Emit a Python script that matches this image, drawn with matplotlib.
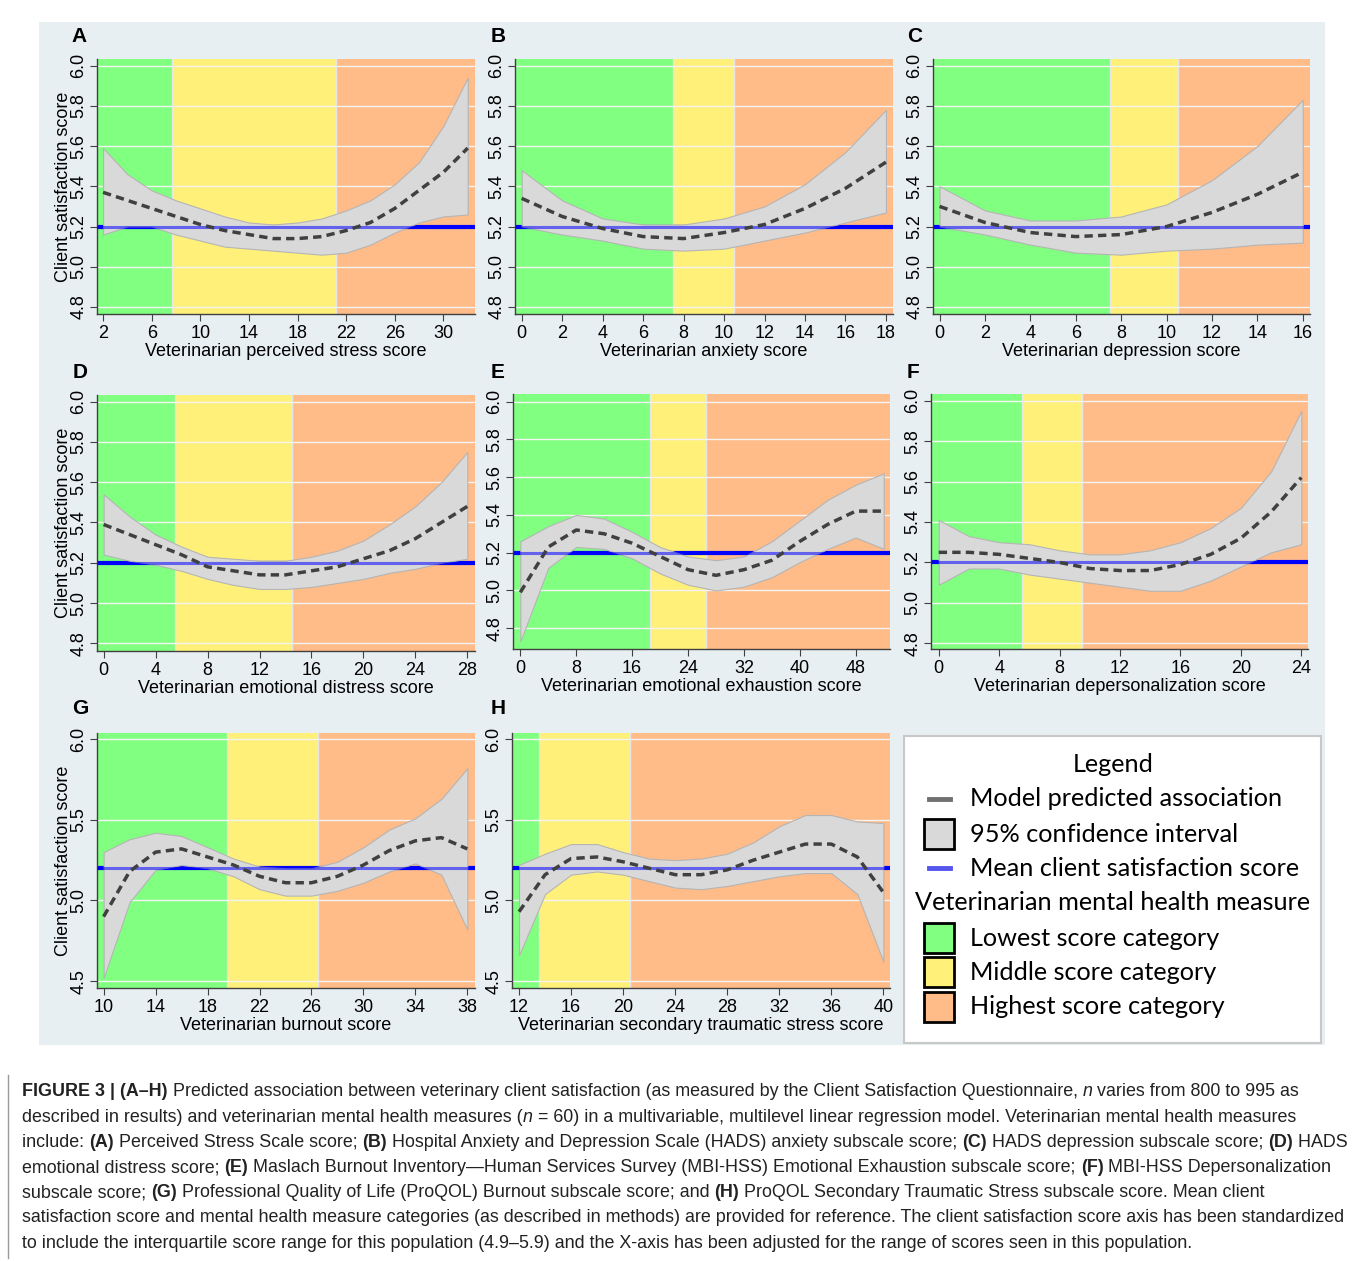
import matplotlib
matplotlib.use("Agg")
import matplotlib.pyplot as plt
from matplotlib.patches import Rectangle
from matplotlib.lines import Line2D

plt.rcParams['font.family'] = ['Liberation Sans', 'DejaVu Sans']

W, H = 1355, 1261

# ---- data ----
a_x = list(range(2, 33, 2))
a_fit = [5.37, 5.33, 5.29, 5.25, 5.21, 5.18, 5.16, 5.14, 5.14, 5.15, 5.18, 5.22, 5.29, 5.38, 5.47, 5.59]
a_hi = [5.59, 5.46, 5.38, 5.33, 5.29, 5.25, 5.22, 5.21, 5.22, 5.24, 5.28, 5.33, 5.41, 5.52, 5.70, 5.94]
a_lo = [5.16, 5.20, 5.20, 5.16, 5.13, 5.10, 5.09, 5.08, 5.07, 5.06, 5.07, 5.11, 5.17, 5.22, 5.25, 5.26]

b_x = list(range(0, 19, 2))
b_fit = [5.34, 5.25, 5.19, 5.15, 5.14, 5.17, 5.21, 5.29, 5.39, 5.52]
b_hi = [5.48, 5.33, 5.24, 5.21, 5.21, 5.24, 5.30, 5.41, 5.57, 5.78]
b_lo = [5.20, 5.16, 5.13, 5.09, 5.08, 5.09, 5.13, 5.17, 5.22, 5.27]

c_x = list(range(0, 17, 2))
c_fit = [5.30, 5.22, 5.17, 5.15, 5.16, 5.20, 5.27, 5.36, 5.47]
c_hi = [5.40, 5.28, 5.23, 5.23, 5.25, 5.31, 5.43, 5.60, 5.83]
c_lo = [5.20, 5.16, 5.11, 5.07, 5.06, 5.08, 5.09, 5.11, 5.12]

d_x = list(range(0, 29, 2))
d_fit = [5.39, 5.34, 5.29, 5.24, 5.18, 5.16, 5.14, 5.14, 5.16, 5.18, 5.22, 5.26, 5.32, 5.40, 5.48]
d_hi = [5.54, 5.43, 5.34, 5.28, 5.23, 5.22, 5.21, 5.21, 5.23, 5.26, 5.31, 5.39, 5.48, 5.60, 5.75]
d_lo = [5.24, 5.21, 5.19, 5.16, 5.12, 5.09, 5.07, 5.07, 5.08, 5.10, 5.12, 5.15, 5.17, 5.20, 5.22]

e_x = list(range(0, 53, 4))
e_fit = [4.99, 5.23, 5.32, 5.30, 5.25, 5.18, 5.11, 5.08, 5.11, 5.16, 5.26, 5.35, 5.42, 5.42]
e_hi = [5.26, 5.34, 5.40, 5.38, 5.31, 5.23, 5.18, 5.16, 5.18, 5.26, 5.37, 5.48, 5.56, 5.62]
e_lo = [4.73, 5.12, 5.23, 5.22, 5.17, 5.09, 5.03, 5.00, 5.02, 5.07, 5.15, 5.22, 5.28, 5.22]

f_x = list(range(0, 25, 2))
f_fit = [5.25, 5.25, 5.24, 5.22, 5.20, 5.17, 5.16, 5.16, 5.19, 5.24, 5.32, 5.45, 5.62]
f_hi = [5.41, 5.33, 5.30, 5.29, 5.26, 5.24, 5.24, 5.26, 5.30, 5.37, 5.47, 5.65, 5.95]
f_lo = [5.09, 5.17, 5.17, 5.14, 5.12, 5.10, 5.08, 5.06, 5.06, 5.11, 5.18, 5.25, 5.29]

g_x = list(range(10, 39, 2))
g_fit = [4.90, 5.18, 5.30, 5.32, 5.27, 5.22, 5.15, 5.11, 5.11, 5.15, 5.22, 5.31, 5.37, 5.39, 5.32]
g_hi = [5.30, 5.38, 5.42, 5.40, 5.33, 5.26, 5.21, 5.20, 5.20, 5.24, 5.33, 5.44, 5.51, 5.63, 5.82]
g_lo = [4.52, 4.99, 5.19, 5.22, 5.20, 5.15, 5.07, 5.03, 5.03, 5.06, 5.11, 5.18, 5.23, 5.16, 4.82]

h_x = list(range(12, 41, 2))
h_fit = [4.93, 5.16, 5.26, 5.27, 5.24, 5.20, 5.16, 5.16, 5.19, 5.25, 5.30, 5.35, 5.35, 5.27, 5.05]
h_hi = [5.22, 5.29, 5.35, 5.35, 5.30, 5.26, 5.25, 5.26, 5.29, 5.36, 5.46, 5.53, 5.53, 5.49, 5.48]
h_lo = [4.66, 5.04, 5.16, 5.18, 5.16, 5.12, 5.08, 5.07, 5.09, 5.12, 5.15, 5.17, 5.17, 5.04, 4.62]

mean_score = 5.2

# category cut points (lowest | middle | highest)
a_cuts = [7.7, 21.2]
b_cuts = [7.5, 10.5]
c_cuts = [7.5, 10.5]
d_cuts = [5.5, 14.5]
e_cuts = [18.5, 26.5]
f_cuts = [5.5, 9.5]
g_cuts = [19.5, 26.5]
h_cuts = [13.5, 20.5]

a_ticks = list(range(2, 31, 4))
b_ticks = list(range(0, 19, 2))
c_ticks = list(range(0, 17, 2))
d_ticks = list(range(0, 29, 4))
e_ticks = list(range(0, 49, 8))
f_ticks = list(range(0, 25, 4))
g_ticks = list(range(10, 39, 4))
h_ticks = list(range(12, 41, 4))
y_ticks_small = [4.8, 5.0, 5.2, 5.4, 5.6, 5.8, 6.0]
y_ticks_big = [4.5, 5.0, 5.5, 6.0]

xlabels = ["Veterinarian perceived stress score", "Veterinarian anxiety score",
           "Veterinarian depression score", "Veterinarian emotional distress score",
           "Veterinarian emotional exhaustion score", "Veterinarian depersonalization score",
           "Veterinarian burnout score", "Veterinarian secondary traumatic stress score"]
letters = ["A", "B", "C", "D", "E", "F", "G", "H"]

GREEN, YELLOW, ORANGE = "#80ff80", "#fff07a", "#ffbb88"

fig = plt.figure(figsize=(W / 100, H / 100), dpi=100)
fig.patches.append(Rectangle((39 / W, 1 - 1045 / H), (1325 - 39) / W, (1045 - 22) / H,
                             transform=fig.transFigure, facecolor="#e8eff2",
                             edgecolor="none", zorder=-5))


def px_rect(l, t, r, b):
    return [l / W, 1 - b / H, (r - l) / W, (b - t) / H]


def fy(y):
    return 1 - y / H


panels = [
    (a_x, a_fit, a_lo, a_hi, a_cuts, a_ticks, y_ticks_small, (1.5, 32.6), (4.765, 6.033), (97, 59, 475, 314), (79, 36)),
    (b_x, b_fit, b_lo, b_hi, b_cuts, b_ticks, y_ticks_small, (-0.33, 18.35), (4.765, 6.033), (515, 59, 893, 314), (498, 36)),
    (c_x, c_fit, c_lo, c_hi, c_cuts, c_ticks, y_ticks_small, (-0.29, 16.32), (4.765, 6.033), (933, 59, 1310, 314), (915, 36)),
    (d_x, d_fit, d_lo, d_hi, d_cuts, d_ticks, y_ticks_small, (-0.51, 28.59), (4.762, 6.033), (97, 395, 475, 651), (80, 372)),
    (e_x, e_fit, e_lo, e_hi, e_cuts, e_ticks, y_ticks_small, (-1.05, 52.9), (4.69, 6.04), (513, 394, 890, 649), (498, 372)),
    (f_x, f_fit, f_lo, f_hi, f_cuts, f_ticks, y_ticks_small, (-0.51, 24.44), (4.772, 6.033), (931, 394, 1308, 649), (913, 372)),
    (g_x, g_fit, g_lo, g_hi, g_cuts, g_ticks, y_ticks_big, (9.49, 38.59), (4.457, 6.039), (97, 733, 475, 988), (80, 708)),
    (h_x, h_fit, h_lo, h_hi, h_cuts, h_ticks, y_ticks_big, (11.46, 40.51), (4.457, 6.039), (512, 733, 890, 988), (498, 708)),
]

for i, (x, fit, lo, hi, cuts, xt, yt, xl, yl, box, lab) in enumerate(panels):
    ax = fig.add_axes(px_rect(*box))
    ax.patch.set_alpha(0)
    ax.set_xlim(xl)
    ax.set_ylim(yl)
    ax.axvspan(xl[0], cuts[0], color=GREEN, lw=0, zorder=0)
    ax.axvspan(cuts[0], cuts[1], color=YELLOW, lw=0, zorder=0)
    ax.axvspan(cuts[1], xl[1], color=ORANGE, lw=0, zorder=0)
    for c in cuts:
        ax.axvline(c, color="#e6e6e6", lw=1, zorder=0.5)
    for v in yt:
        ax.axhline(v, color="#f4f4f4", lw=1, zorder=0.6)
    ax.axhline(mean_score, color="#0000ff", lw=3, zorder=1)
    ax.fill_between(x, lo, hi, facecolor="#d9d9d9", edgecolor="#b5b5b5", lw=0.8, zorder=2)
    ax.axhline(mean_score, color="#0000ff", lw=2.2, alpha=0.55, zorder=3)
    ax.plot(x, fit, color="#404040", lw=2.5, dashes=(2.4, 1.5), zorder=4)
    ax.set_xticks(xt)
    ax.set_yticks(yt)
    ax.set_yticklabels(["%.1f" % v for v in yt], rotation=90, va="center")
    ax.tick_params(labelsize=13, length=5, color="#404040")
    ax.tick_params(axis="x", pad=3)
    ax.tick_params(axis="y", pad=2)
    for s in ["top", "right"]:
        ax.spines[s].set_visible(False)
    for s in ["left", "bottom"]:
        ax.spines[s].set_color("#404040")
        ax.spines[s].set_linewidth(1)
    ax.set_xlabel(xlabels[i], fontsize=13, labelpad=0.5)
    if i in (0, 3, 6):
        ax.set_ylabel("Client satisfaction score", fontsize=13, labelpad=-1)
    fig.text(lab[0] / W, fy(lab[1]), letters[i], fontsize=15, fontweight="bold",
             ha="center", va="center")

# ---- legend box ----
fig.patches.append(Rectangle((904 / W, fy(1043)), (1321 - 904) / W, (1043 - 736) / H,
                             transform=fig.transFigure, facecolor="white",
                             edgecolor="#c8c8c8", lw=1.5, zorder=1))
LF = ["Lato", "DejaVu Sans"]
LS = 18.2

fig.text(1113 / W, fy(764), "Legend", fontsize=LS, family=LF, ha="center", va="center")
fig.text(1113 / W, fy(903), "Veterinarian mental health measure", fontsize=LS, family=LF,
         ha="center", va="center")
rows = [(799, "Model predicted association", "line", "#707070"),
        (834, "95% confidence interval", "box", "#d9d9d9"),
        (868, "Mean client satisfaction score", "line", "#5555ee"),
        (938, "Lowest score category", "box", GREEN),
        (972, "Middle score category", "box", YELLOW),
        (1007, "Highest score category", "box", ORANGE)]
for y, txt, kind, col in rows:
    if kind == "line":
        fig.lines.append(Line2D([929 / W, 950 / W], [fy(y), fy(y)], transform=fig.transFigure,
                                color=col, lw=3.5, zorder=2))
    else:
        fig.patches.append(Rectangle((924 / W, fy(y + 15)), 30 / W, 30 / H,
                                     transform=fig.transFigure, facecolor=col,
                                     edgecolor="black", lw=2, zorder=2))
    fig.text(970 / W, fy(y), txt, fontsize=LS, family=LF, ha="left", va="center")

# ---- caption ----
fig.lines.append(Line2D([8 / W, 8 / W], [fy(1075), fy(1258)], transform=fig.transFigure,
                        color="#999999", lw=1))
cap = [
    [("FIGURE 3 | (A\u2013H)", "b"), (" Predicted association between veterinary client satisfaction (as measured by the Client Satisfaction Questionnaire, ", "r"), ("n", "i"), (" varies from 800 to 995 as", "r")],
    [("described in results) and veterinarian mental health measures (", "r"), ("n", "i"), (" = 60) in a multivariable, multilevel linear regression model. Veterinarian mental health measures", "r")],
    [("include: ", "r"), ("(A)", "b"), (" Perceived Stress Scale score; ", "r"), ("(B)", "b"), (" Hospital Anxiety and Depression Scale (HADS) anxiety subscale score; ", "r"), ("(C)", "b"), (" HADS depression subscale score; ", "r"), ("(D)", "b"), (" HADS", "r")],
    [("emotional distress score; ", "r"), ("(E)", "b"), (" Maslach Burnout Inventory\u2014Human Services Survey (MBI-HSS) Emotional Exhaustion subscale score; ", "r"), ("(F)", "b"), (" MBI-HSS Depersonalization", "r")],
    [("subscale score; ", "r"), ("(G)", "b"), (" Professional Quality of Life (ProQOL) Burnout subscale score; and ", "r"), ("(H)", "b"), (" ProQOL Secondary Traumatic Stress subscale score. Mean client", "r")],
    [("satisfaction score and mental health measure categories (as described in methods) are provided for reference. The client satisfaction score axis has been standardized", "r")],
    [("to include the interquartile score range for this population (4.9\u20135.9) and the X-axis has been adjusted for the range of scores seen in this population.", "r")],
]
renderer = fig.canvas.get_renderer()
for k, line in enumerate(cap):
    x = 22
    y = 1092 + k * 25.2
    for txt, st in line:
        t = fig.text(x / W, fy(y), txt, fontsize=12.85, ha="left", va="center",
                     fontweight="bold" if st == "b" else "normal",
                     fontstyle="italic" if st == "i" else "normal", color="#222222")
        bb = t.get_window_extent(renderer=renderer)
        x = bb.x1

fig.savefig("out.png", dpi=100)
